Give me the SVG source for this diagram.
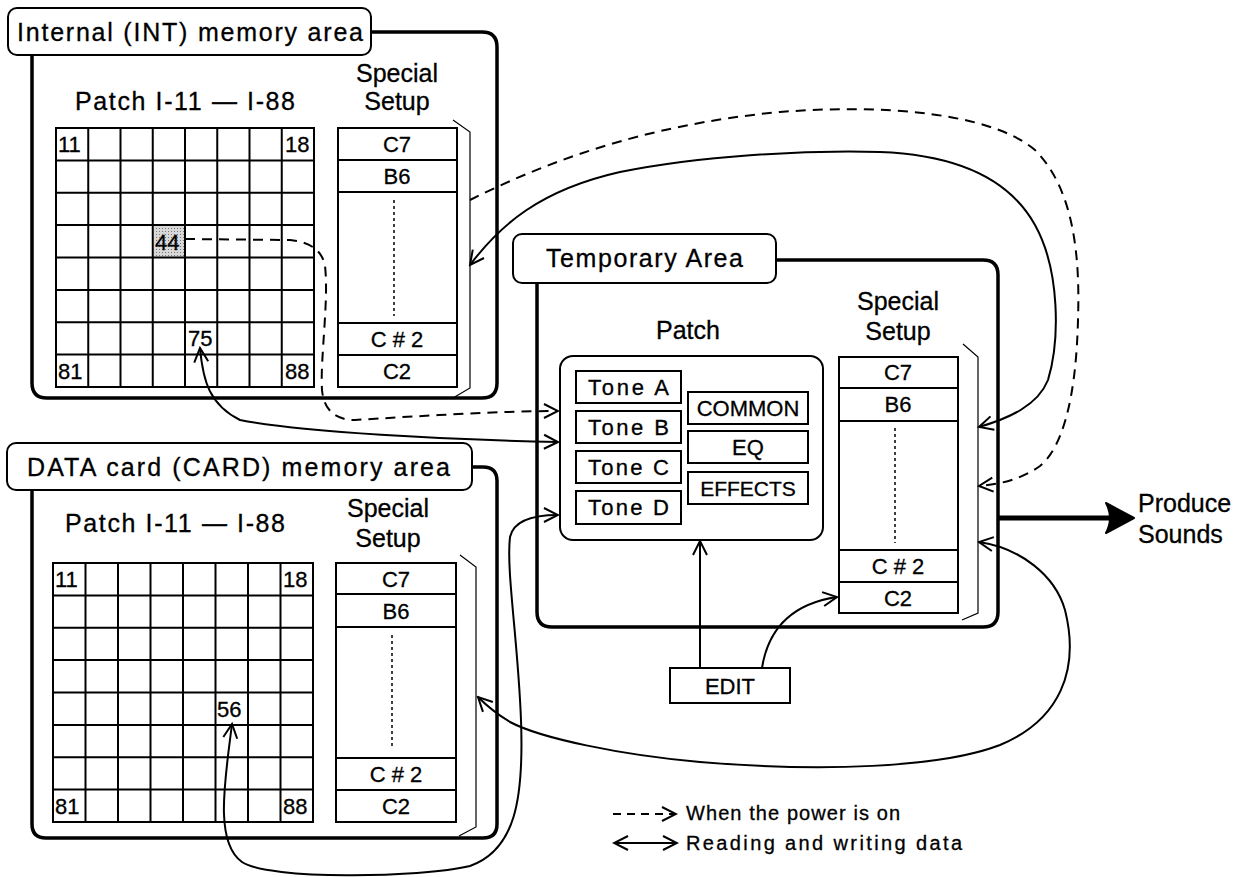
<svg xmlns="http://www.w3.org/2000/svg" width="1247" height="877" viewBox="0 0 1247 877">
<style>
text{font-family:"Liberation Sans",Arial,sans-serif;fill:#000;stroke:#000;stroke-width:0.3}
.ttl{font-size:25px}
.lbl{font-size:25px}
.num{font-size:22px}
.cell{font-size:22px;text-anchor:middle}
.tone{font-size:22px}
.leg{font-size:20px}
.frame{fill:none;stroke:#000;stroke-width:3.5}
.tbox{fill:#fff;stroke:#000;stroke-width:2}
.box{fill:#fff;stroke:#000;stroke-width:2}
.grid{fill:none;stroke:#000;stroke-width:2}
.brk{fill:none;stroke:#000;stroke-width:1.2}
.dot{fill:none;stroke:#000;stroke-width:1.5;stroke-dasharray:3 3}
.rw{fill:none;stroke:#000;stroke-width:2}
.pw{fill:none;stroke:#000;stroke-width:2;stroke-dasharray:10 7}
</style>
<defs>
<marker id="ah" markerUnits="userSpaceOnUse" viewBox="-16 -9 18 18" refX="0" refY="0" markerWidth="18" markerHeight="18" orient="auto-start-reverse">
<path d="M-14,-7 L0,0 L-14,7" fill="none" stroke="#000" stroke-width="2"/>
</marker>
<pattern id="stip" width="3" height="3" patternUnits="userSpaceOnUse">
<rect width="3" height="3" fill="#d8d8d8"/>
<rect width="1" height="1" fill="#777"/>
</pattern>
</defs>

<g id="int-area">
<path class="frame" d="M371,32 L482,32 Q497,32 497,47 L497,383 Q497,398 482,398 L47,398 Q32,398 32,383 L32,55"/>
<rect class="tbox" x="8" y="8" width="363" height="47" rx="9"/>
<text class="ttl" x="17" y="41" textLength="346" lengthAdjust="spacing">Internal (INT) memory area</text>
<text class="lbl" x="75" y="110" textLength="220" lengthAdjust="spacing">Patch I-11 — I-88</text>
<text class="lbl" x="397" y="82" text-anchor="middle">Special</text>
<text class="lbl" x="397" y="110" text-anchor="middle">Setup</text>
</g>

<g id="int-grid">
<rect x="153.8" y="225.1" width="32.2" height="32.4" fill="url(#stip)"/>
<rect class="grid" x="56" y="128" width="258" height="259"/>
<path class="grid" d="M88.25,128V387M120.5,128V387M152.75,128V387M185,128V387M217.25,128V387M249.5,128V387M281.75,128V387M56,160.4H314M56,192.75H314M56,225.1H314M56,257.5H314M56,289.9H314M56,322.25H314M56,354.6H314"/>
<text class="num" x="58" y="152">11</text>
<text class="num" x="285" y="152">18</text>
<text class="num" x="58" y="379">81</text>
<text class="num" x="285" y="379">88</text>
<text class="num" x="155" y="250">44</text>
<text class="num" x="188" y="346">75</text>
</g>

<g id="int-setup">
<rect class="box" x="338" y="128" width="119" height="259"/>
<path class="grid" d="M338,160H457M338,192H457M338,323H457M338,355H457"/>
<path class="dot" d="M394,200V316"/>
<text class="cell" x="397" y="152">C7</text>
<text class="cell" x="397" y="184">B6</text>
<text class="cell" x="397" y="347">C # 2</text>
<text class="cell" x="397" y="379">C2</text>
<path class="brk" d="M453,120 L470,132 L470,388 L453,398"/>
</g>

<g id="temp-area">
<path class="frame" d="M776,260 L983,260 Q998,260 998,275 L998,612 Q998,627 983,627 L552,627 Q537,627 537,612 L537,283"/>
<rect class="tbox" x="513" y="234" width="263" height="49" rx="9"/>
<text class="ttl" x="546" y="267" textLength="197" lengthAdjust="spacing">Temporary Area</text>
<text class="lbl" x="688" y="339" text-anchor="middle">Patch</text>
<text class="lbl" x="898" y="310" text-anchor="middle">Special</text>
<text class="lbl" x="898" y="340" text-anchor="middle">Setup</text>
</g>

<g id="temp-patch">
<rect class="box" x="560" y="356" width="263" height="184" rx="13"/>
<g id="tone-a"><rect class="box" x="576" y="371" width="105" height="32"/><text class="tone" x="588" y="395" textLength="81" lengthAdjust="spacing">Tone A</text></g>
<g id="tone-b"><rect class="box" x="576" y="411" width="105" height="32"/><text class="tone" x="588" y="435" textLength="81" lengthAdjust="spacing">Tone B</text></g>
<g id="tone-c"><rect class="box" x="576" y="451" width="105" height="32"/><text class="tone" x="588" y="475" textLength="81" lengthAdjust="spacing">Tone C</text></g>
<g id="tone-d"><rect class="box" x="576" y="491" width="105" height="33"/><text class="tone" x="588" y="515" textLength="81" lengthAdjust="spacing">Tone D</text></g>
<g id="common"><rect class="box" x="688" y="392" width="120" height="32"/><text class="tone" x="748" y="416" text-anchor="middle">COMMON</text></g>
<g id="eq"><rect class="box" x="688" y="431" width="120" height="32"/><text class="tone" x="748" y="455" text-anchor="middle">EQ</text></g>
<g id="effects"><rect class="box" x="688" y="472" width="120" height="32"/><text class="tone" x="748" y="496" text-anchor="middle" style="font-size:21px">EFFECTS</text></g>
</g>

<g id="temp-setup">
<rect class="box" x="839" y="357" width="119" height="256"/>
<path class="grid" d="M839,388H958M839,421H958M839,550H958M839,582H958"/>
<path class="dot" d="M895,428V543"/>
<text class="cell" x="898" y="380">C7</text>
<text class="cell" x="898" y="412">B6</text>
<text class="cell" x="898" y="574">C # 2</text>
<text class="cell" x="898" y="606">C2</text>
<path class="brk" d="M963,344 L978,357 L978,613 L962,620"/>
</g>

<g id="card-area">
<path class="frame" d="M472,467 L483,467 Q497,467 497,481 L497,824 Q497,838 483,838 L46,838 Q32,838 32,824 L32,490"/>
<rect class="tbox" x="7" y="443" width="465" height="47" rx="9"/>
<text class="ttl" x="27" y="476" textLength="423" lengthAdjust="spacing">DATA card (CARD) memory area</text>
<text class="lbl" x="65" y="532" textLength="220" lengthAdjust="spacing">Patch I-11 — I-88</text>
<text class="lbl" x="388" y="517" text-anchor="middle">Special</text>
<text class="lbl" x="388" y="547" text-anchor="middle">Setup</text>
</g>

<g id="card-grid">
<rect class="grid" x="53" y="563" width="260" height="259"/>
<path class="grid" d="M85.5,563V822M118,563V822M150.5,563V822M183,563V822M215.5,563V822M248,563V822M280.5,563V822M53,595.4H313M53,627.75H313M53,660.1H313M53,692.5H313M53,724.9H313M53,757.25H313M53,789.6H313"/>
<text class="num" x="55" y="587">11</text>
<text class="num" x="283" y="587">18</text>
<text class="num" x="55" y="814">81</text>
<text class="num" x="283" y="814">88</text>
<text class="num" x="217" y="717">56</text>
</g>

<g id="card-setup">
<rect class="box" x="336" y="563" width="120" height="259"/>
<path class="grid" d="M336,594H456M336,627H456M336,758H456M336,790H456"/>
<path class="dot" d="M392,635V748"/>
<text class="cell" x="396" y="587">C7</text>
<text class="cell" x="396" y="619">B6</text>
<text class="cell" x="396" y="782">C # 2</text>
<text class="cell" x="396" y="814">C2</text>
<path class="brk" d="M460,555 L476,567 L476,827 L459,836"/>
</g>

<g id="edit">
<rect class="box" x="670" y="668" width="120" height="35"/>
<text class="tone" x="730" y="694" text-anchor="middle">EDIT</text>
</g>

<g id="produce-sounds">
<text class="lbl" x="1138" y="512">Produce</text>
<text class="lbl" x="1138" y="543">Sounds</text>
</g>

<g id="connectors">
<path class="pw" d="M185,239 L290,240 C310,242 322,250 325,266 C329,300 320,360 322,390 C324,410 335,420 355,420 C420,416 500,411 558,411" marker-end="url(#ah)"/>
<path class="rw" d="M200,348 C203,382 210,405 240,420 C300,432 450,440 558,442" marker-start="url(#ah)" marker-end="url(#ah)"/>
<path class="rw" d="M232,724 C225,780 214,842 242,862 C268,880 420,878 470,866 C515,850 524,800 521,720 C518,640 506,570 510,537 C514,519 535,515 558,515" marker-start="url(#ah)" marker-end="url(#ah)"/>
<path class="pw" d="M470,200 C540,165 640,125 780,112 C880,104 990,112 1035,150 C1075,190 1080,260 1078,320 C1076,400 1062,448 1040,466 C1020,480 1000,484 979,486" marker-end="url(#ah)"/>
<path class="rw" d="M470,265 C500,225 540,190 620,172 C700,156 800,150 880,152 C960,155 1010,180 1035,225 C1060,270 1060,340 1048,380 C1038,405 1010,418 979,427" marker-start="url(#ah)" marker-end="url(#ah)"/>
<path class="rw" d="M979,542 C1020,548 1055,575 1065,610 C1080,670 1060,720 1000,745 C940,768 820,772 700,762 C620,755 540,738 510,722 C495,713 486,705 478,697" marker-start="url(#ah)" marker-end="url(#ah)"/>
<path class="rw" d="M700,668 L700,541" marker-end="url(#ah)"/>
<path class="rw" d="M762,668 C768,630 790,604 837,597" marker-end="url(#ah)"/>
<path d="M998,518 L1118,518" fill="none" stroke="#000" stroke-width="5"/>
<path d="M1134,518 L1106,503 Q1114,518 1106,533 Z" fill="#000" stroke="#000" stroke-width="2" stroke-linejoin="round"/>
</g>

<g id="legend">
<path class="pw" d="M613,814 L676,814" style="stroke-dasharray:8 6" marker-end="url(#ah)"/>
<path class="rw" d="M614,843 L677,843" marker-start="url(#ah)" marker-end="url(#ah)"/>
<text class="leg" x="686" y="820" textLength="214" lengthAdjust="spacing">When the power is on</text>
<text class="leg" x="686" y="850" textLength="276" lengthAdjust="spacing">Reading and writing data</text>
</g>
</svg>
